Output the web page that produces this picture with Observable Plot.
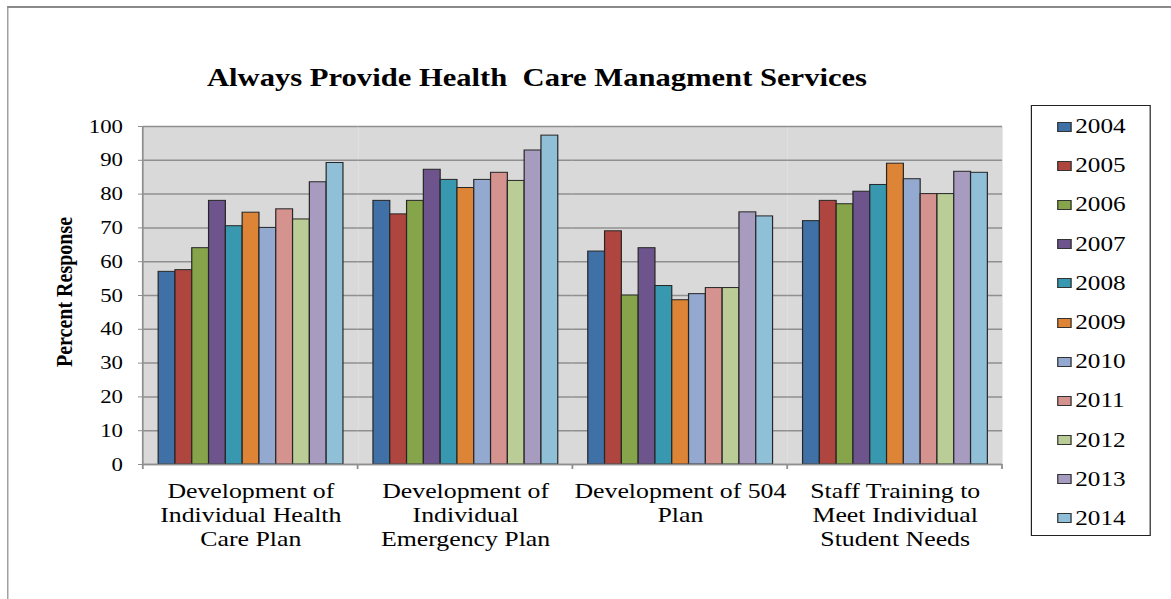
<!DOCTYPE html>
<html>
<head>
<meta charset="utf-8">
<script src="https://cdn.jsdelivr.net/npm/d3@7"></script>
<script src="https://cdn.jsdelivr.net/npm/@observablehq/plot@0.6"></script>
<style>
  html, body { margin: 0; padding: 0; background: #fff; overflow: hidden; width: 1171px; height: 599px; }
  #stage { position: relative; width: 976px; height: 599px; transform: scaleX(1.2); transform-origin: 0 0;
           font-family: "Liberation Serif", "Times New Roman", serif; color: #000; }
  #border { position: absolute; left: 5.8px; top: 6px; width: 1200px; height: 700px;
            border-left: 1.7px solid #8a8a8a; border-top: 2px solid #8a8a8a; }
  #chart { position: absolute; left: 0; top: 0; }
  #title { position: absolute; left: 147.5px; width: 600px; top: 65px; text-align: center;
           font-weight: bold; font-size: 25.5px; line-height: 25px; white-space: nowrap; }
  #ylabel { position: absolute; left: 52.5px; top: 292px; transform: translate(-50%, -50%) rotate(-90deg);
            font-weight: bold; font-size: 20px; line-height: 20px; white-space: nowrap; }
  #legend { position: absolute; left: 859px; top: 105px; width: 100px; height: 431px; box-sizing: border-box;
            border: 1px solid #222; padding-top: 1px; }
  .item { height: 39.2px; display: flex; align-items: center; padding-left: 21px; font-size: 21px; }
  .sw { width: 12px; height: 10px; box-sizing: border-box; border: 1px solid #333; margin-right: 3px; }
</style>
</head>
<body>
<div id="stage">
  <div id="border"></div>
  <div id="chart"></div>
  <div id="title">Always Provide Health&nbsp; Care Managment Services</div>
  <div id="ylabel">Percent Response</div>
  <div id="legend"></div>
</div>
<script>
// ---- data ----
const categories = [
  "Development of\nIndividual Health\nCare Plan",
  "Development of\nIndividual\nEmergency Plan",
  "Development of 504\nPlan",
  "Staff Training to\nMeet Individual\nStudent Needs"
];
const years = ["2004","2005","2006","2007","2008","2009","2010","2011","2012","2013","2014"];
const healthCarePlan  = [57, 57.5, 64, 78, 70.5, 74.5, 70, 75.5, 72.5, 83.5, 89.2];
const emergencyPlan   = [78, 74, 78, 87.2, 84.2, 81.8, 84.2, 86.3, 83.9, 92.9, 97.3];
const plan504         = [63, 69, 50, 64, 52.8, 48.6, 50.4, 52.2, 52.2, 74.6, 73.4];
const staffTraining   = [72, 78, 77, 80.7, 82.7, 89, 84.4, 80, 80, 86.6, 86.3];
const seriesByCategory = [healthCarePlan, emergencyPlan, plan504, staffTraining];
const colors = ["#3F71A6","#AE463F","#86A44A","#6E548D","#3798AF","#DE8436","#94A9D0","#D59390","#BBCD96","#A79CC0","#8FC0D8"];
const yTicks = [0,10,20,30,40,50,60,70,80,90,100];

const rows = [];
categories.forEach((c, i) => years.forEach((yr, j) => rows.push({category: c, year: yr, value: seriesByCategory[i][j]})));

const gridColor = "#8f8f8f";
const chart = Plot.plot({
  width: 976,
  height: 599,
  marginLeft: 119.2,
  marginRight: 140.2,
  marginTop: 126,
  marginBottom: 135,
  style: {fontFamily: '"Liberation Serif", "Times New Roman", serif', background: "transparent", overflow: "visible", color: "#000"},
  fx: {domain: categories, padding: 0, label: null},
  x: {domain: years, paddingInner: 0, paddingOuter: 0.75, axis: null},
  y: {domain: [0, 100], label: null},
  color: {domain: years, range: colors},
  marks: [
    Plot.frame({fill: "#d9d9d9", stroke: "none"}),
    Plot.gridY(yTicks, {stroke: gridColor, strokeOpacity: 1, strokeWidth: 1.5}),
    Plot.barY(rows, {fx: "category", x: "year", y: "value", fill: "year", stroke: "#262626", strokeWidth: 1}),
    Plot.ruleY([0], {stroke: gridColor, strokeWidth: 1.5}),
    Plot.axisY(yTicks, {tickSize: 4, tickPadding: 13, fontSize: 19, stroke: gridColor, fill: "#000", label: null}),
    Plot.axisFx({anchor: "bottom", tickSize: 0, tickPadding: 17, fontSize: 21.5, lineHeight: 1.1, label: null, fill: "#000"})
  ]
});
document.getElementById("chart").appendChild(chart);

// axis line on the left and group separator ticks, from the chart's own scales
const fxs = chart.scale("fx"), ys = chart.scale("y");
const y0 = ys.apply(0), y100 = ys.apply(100);
const edges = categories.map(c => fxs.apply(c));
edges.push(fxs.apply(categories[categories.length - 1]) + fxs.bandwidth);
const g = d3.select(chart).append("g").attr("stroke", gridColor).attr("stroke-width", 1.5);
g.append("line").attr("x1", edges[0]).attr("x2", edges[0]).attr("y1", y100).attr("y2", y0);
edges.forEach(x => g.append("line").attr("x1", x).attr("x2", x).attr("y1", y0).attr("y2", y0 + 5));

// legend
const legend = d3.select("#legend");
years.forEach((yr, i) => {
  const it = legend.append("div").attr("class", "item");
  it.append("div").attr("class", "sw").style("background", colors[i]);
  it.append("span").text(yr);
});
</script>
</body>
</html>
